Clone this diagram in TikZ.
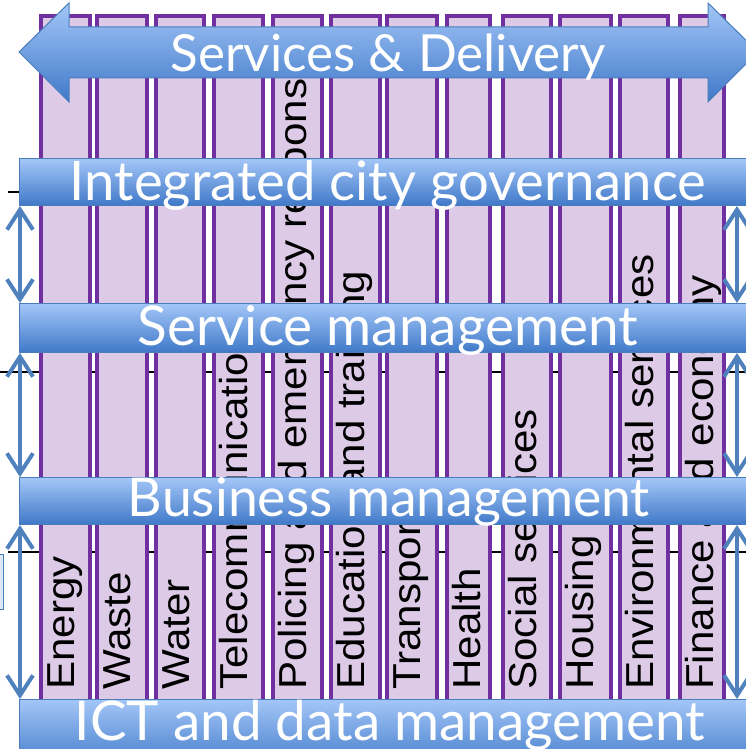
\documentclass[tikz,border=0pt]{standalone}
\usepackage{fontspec}
\setmainfont{Liberation Sans}
\newfontfamily\barfont{Lato}
\usetikzlibrary{arrows.meta}
\definecolor{colfill}{HTML}{DCCAE6}
\definecolor{colline}{HTML}{7030A0}
\definecolor{bartop}{HTML}{A3C6F7}
\definecolor{barbot}{HTML}{4079C9}
\definecolor{barline}{HTML}{4A7EBB}
\definecolor{arrowblue}{HTML}{4F81BD}
\definecolor{boxfill}{HTML}{DCE6F4}
\begin{document}
\begin{tikzpicture}[x=1pt,y=-1pt,
  colbox/.style={fill=colfill,draw=colline,line width=4pt,inner sep=0pt,anchor=north west},
  collabel/.style={rotate=90,anchor=base west,inner sep=0pt,font=\fontsize{39}{39}\selectfont},
  barbox/.style={top color=bartop,bottom color=barbot,draw=barline,line width=1pt,inner sep=0pt,anchor=north west,minimum width=738pt},
  bartext/.style={anchor=base,inner sep=0pt,text=white,font=\barfont\fontsize{48}{48}\selectfont},
  vlink/.style={draw=arrowblue,line width=4pt,{Straight Barb[length=20pt,width=26pt]}-{Straight Barb[length=20pt,width=26pt]}},
  gridline/.style={draw=black,line width=1.5pt}
]
\useasboundingbox (0,0) rectangle (746,749);
\clip (0,0) rectangle (746,749);

% thin black grid lines under the columns
\coordinate (g1a) at (8,192);   \coordinate (g1b) at (746,192);
\coordinate (g2a) at (0,372);   \coordinate (g2b) at (746,372);
\coordinate (g3a) at (8,552);   \coordinate (g3b) at (746,552);
\draw[gridline] (g1a) -- (g1b);
\draw[gridline] (g2a) -- (g2b);
\draw[gridline] (g3a) -- (g3b);

% clipped box at the left edge
\draw[fill=boxfill,draw=barline,line width=1pt] (-20,554) rectangle (3,609);

% columns
\foreach \i/\l/\r/\txt in {
  1/37/90/Energy,
  2/93/147/Waste,
  3/152/204/Water,
  4/210/263/Telecommunications,
  5/269/322/Policing and emergency response,
  6/327/380/Education and training,
  7/383/437/Transport,
  8/443/490/Health,
  9/499/551/Social services,
  10/556/611/Housing,
  11/616/668/Environmental services,
  12/676/724/Finance and economy}{
  \pgfmathsetmacro\w{\r-\l-4}
  \node[colbox,minimum width=\w pt,minimum height=726pt] (c\i) at (\l+2,14) {};
  \node[collabel] (t\i) at (\l+37,690) {\scalebox{1.08}[1]{\txt}};
}

% layer bars
\node[barbox,minimum height=47pt] (b1) at (19,158) {};
\node[barbox,minimum height=49pt] (b2) at (19,303) {};
\node[barbox,minimum height=47pt] (b3) at (19,477) {};
\node[barbox,minimum height=70pt] (b4) at (19,699) {};

\node[bartext] (l1) at (388,200) {\resizebox{636pt}{!}{Integrated city governance}};
\node[bartext] (l2) at (388,345) {\resizebox{500pt}{!}{Service management}};
\node[bartext] (l3) at (389,516) {\resizebox{522pt}{!}{Business management}};
\node[bartext] (l4) at (390,740) {\resizebox{630pt}{!}{ICT and data management}};

% vertical double arrows
\coordinate (lx) at (20,0);
\coordinate (rx) at (737,0);
\draw[vlink] (b1.south -| lx) -- (b2.north -| lx);
\draw[vlink] (b2.south -| lx) -- (b3.north -| lx);
\draw[vlink] (b3.south -| lx) -- (b4.north -| lx);
\draw[vlink] (b1.south -| rx) -- (b2.north -| rx);
\draw[vlink] (b2.south -| rx) -- (b3.north -| rx);
\draw[vlink] (b3.south -| rx) -- (b4.north -| rx);

% Services & Delivery double block arrow
\path[top color=bartop,bottom color=barbot,draw=barline,line width=1pt]
  (19,52) -- (69,3) -- (69,27) -- (708,27) -- (708,3) -- (758,52)
  -- (708,102) -- (708,78) -- (69,78) -- (69,102) -- cycle;
\node[bartext] (l0) at (388,72) {\resizebox{435pt}{!}{Services \& Delivery}};
\end{tikzpicture}
\end{document}
